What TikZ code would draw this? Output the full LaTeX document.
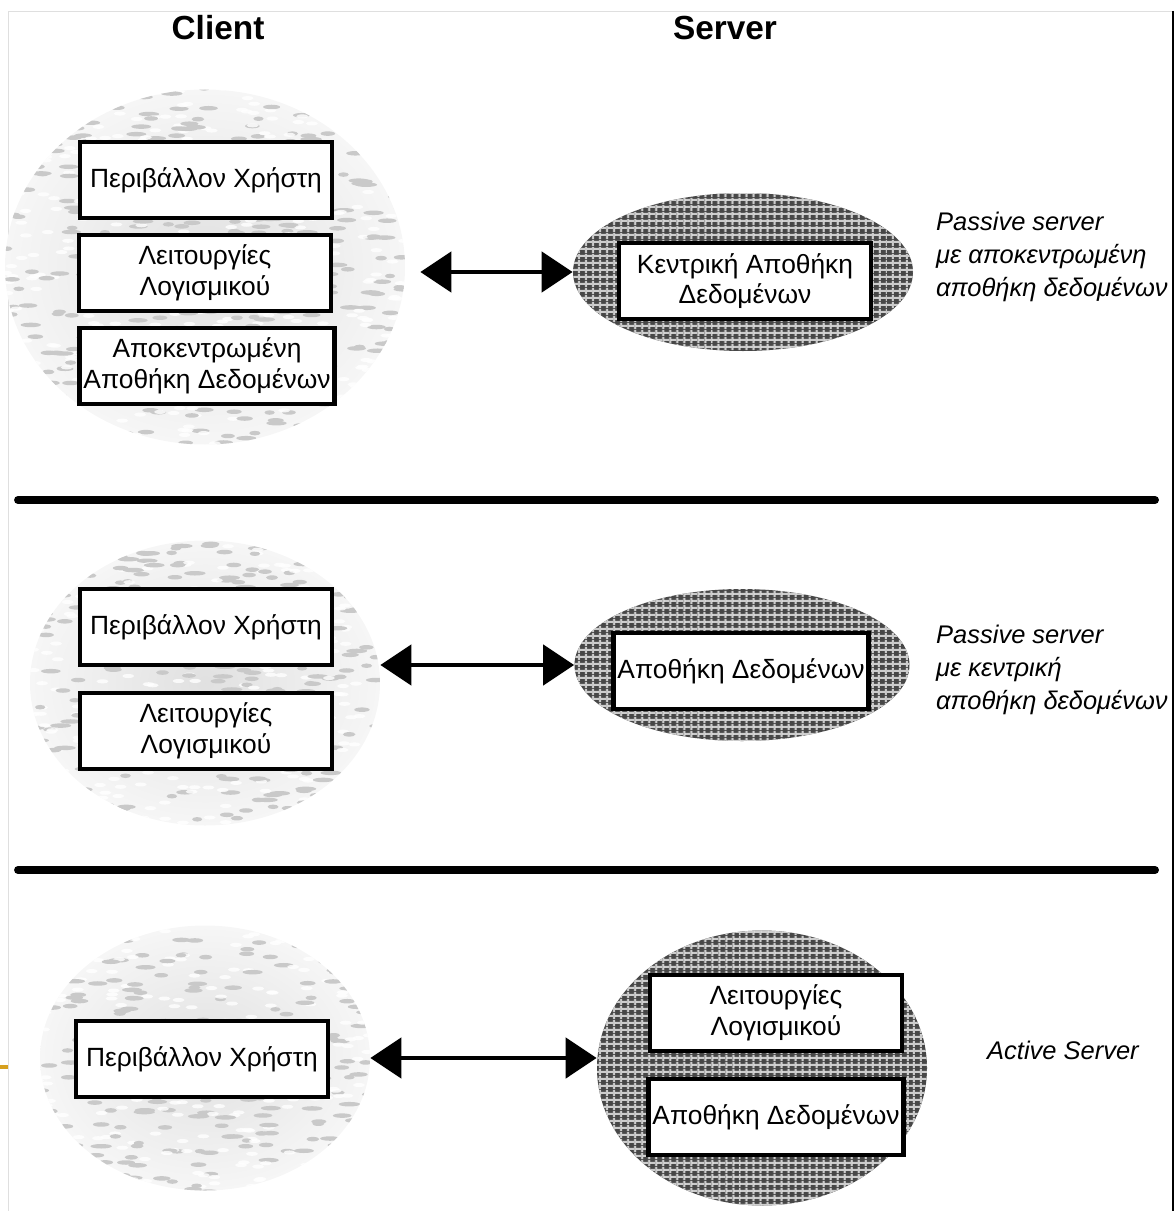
\documentclass[tikz,border=0pt]{standalone}
\usepackage{fontspec}
\setmainfont{Liberation Sans}
\usetikzlibrary{arrows.meta,shapes.geometric,patterns.meta}

\begin{document}
\begin{tikzpicture}[
    box/.style={draw,line width=2.8pt,fill=white,minimum width=5.04cm,minimum height=1.52cm,
                inner sep=2pt,align=center,font=\fontsize{15}{17.5}\selectfont},
    cloud/.style={ellipse,inner sep=0pt,shading=radial,inner color=gray!24,outer color=gray!7,
                  path picture={\foreach \k in {1,...,380}
                    {\fill[gray!42,rotate=25*rand] (path picture bounding box.center)
                       ++({4*rand},{3.6*rand}) ellipse [x radius={0.1+0.12*rnd}, y radius=0.045];
                     \fill[white,opacity=.8] (path picture bounding box.center)
                       ++({4*rand},{3.6*rand}) ellipse [x radius=0.12, y radius=0.04];}}},
    hub/.style={ellipse,inner sep=0pt,fill=black!72,
                postaction={pattern={Lines[angle=0,distance=4pt,line width=1.3pt]},pattern color=gray!40},
                postaction={pattern={Lines[angle=90,distance=4pt,line width=1.3pt]},pattern color=gray!40}},
    link/.style={line width=2.8pt,{Triangle[length=0.62cm,width=0.8cm]}-{Triangle[length=0.62cm,width=0.8cm]}},
    note/.style={anchor=west,align=left,font=\fontsize{14.5}{18.8}\selectfont\itshape},
    head/.style={font=\fontsize{19}{23}\selectfont\bfseries},
    rule/.style={line width=4.5pt,line cap=round}
  ]
  \pgfmathsetseed{7}
  \useasboundingbox (0,0) rectangle (23.5,-24.22);
  \draw[gray!25] (0.16,-24.22) -- (0.16,-0.22) -- (23.46,-0.22);
  \draw[line width=1.4pt] (23.46,-0.22) -- (23.46,-24.22);
  \draw[line width=2.2pt,color={rgb,255:red,214;green,160;blue,30}] (0,-21.34) -- (0.16,-21.34);

  \node[head] (client) at (4.36,-0.56) {Client};
  \node[head] (server) at (14.5,-0.56) {Server};

  \node[cloud,minimum width=8cm,minimum height=7.1cm] (c1) at (4.1,-5.34) {};
  \node[hub,minimum width=6.8cm,minimum height=3.16cm] (s1) at (14.86,-5.44) {};
  \node[box] (ui1) at (4.12,-3.6) {Περιβάλλον Χρήστη};
  \node[box] (sw1) at (4.1,-5.46) {Λειτουργίες\\Λογισμικού};
  \node[box] (db1) at (4.14,-7.32) {Αποκεντρωμένη\\Αποθήκη Δεδομένων};
  \node[box] (cdb1) at (14.9,-5.62) {Κεντρική Αποθήκη\\Δεδομένων};
  \draw[link] (s1.west -| c1.east) ++(0.3,0) coordinate (l1) (l1) -- (s1.west);
  \node[note] (n1) at (18.6,-5.14) {Passive server\\με αποκεντρωμένη\\αποθήκη δεδομένων};

  \draw[rule] (0.36,-10) -- (23.1,-10);

  \node[cloud,minimum width=7cm,minimum height=5.7cm] (c2) at (4.1,-13.66) {};
  \node[hub,minimum width=6.7cm,minimum height=3.04cm] (s2) at (14.84,-13.3) {};
  \node[box] (ui2) at (4.12,-12.54) {Περιβάλλον Χρήστη};
  \node[box] (sw2) at (4.12,-14.62) {Λειτουργίες\\Λογισμικού};
  \node[box,minimum width=4.96cm] (db2) at (14.82,-13.42) {Αποθήκη Δεδομένων};
  \draw[link] (s2.west -| c2.east) -- (s2.west);
  \node[note] (n2) at (18.6,-13.4) {Passive server\\με κεντρική\\αποθήκη δεδομένων};

  \draw[rule] (0.36,-17.4) -- (23.1,-17.4);

  \node[cloud,minimum width=6.6cm,minimum height=5.3cm] (c3) at (4.1,-21.16) {};
  \node[hub,minimum width=6.6cm,minimum height=5.5cm] (s3) at (15.24,-21.36) {};
  \node[box] (ui3) at (4.04,-21.18) {Περιβάλλον Χρήστη};
  \node[box] (sw3) at (15.52,-20.26) {Λειτουργίες\\Λογισμικού};
  \node[box] (db3) at (15.52,-22.34) {Αποθήκη Δεδομένων};
  \draw[link] (c3.east) -- (c3.east -| s3.west);
  \node[note] (n3) at (19.62,-21.0) {Active Server};
\end{tikzpicture}
\end{document}
